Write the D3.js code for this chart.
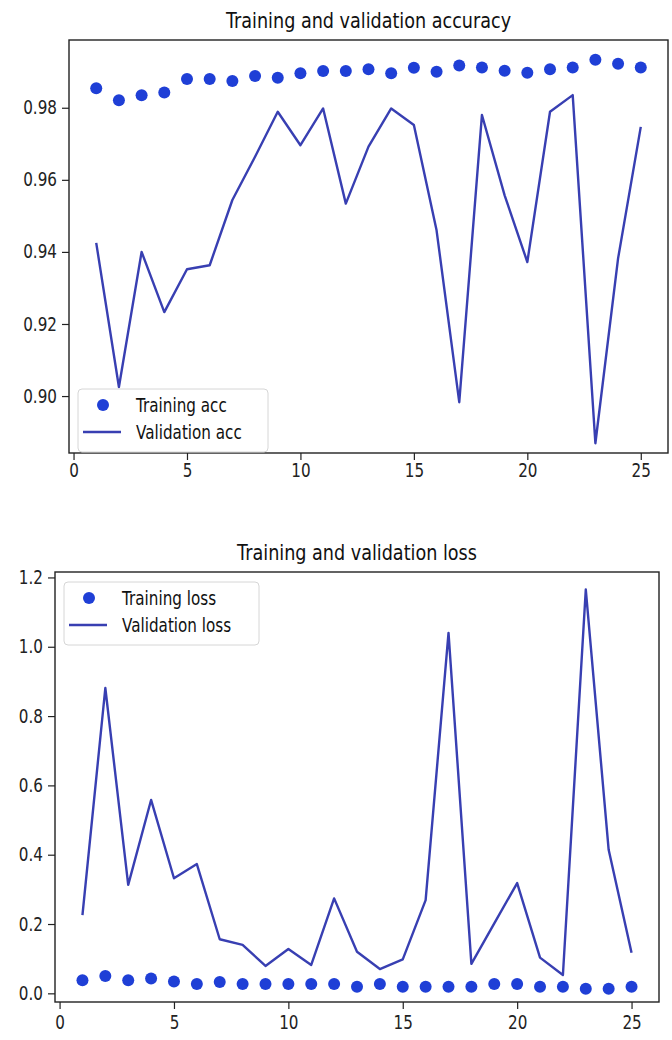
<!DOCTYPE html>
<html>
<head>
<meta charset="utf-8">
<script src="https://cdn.jsdelivr.net/npm/d3@7"></script>
<style>
  body { margin: 0; background: #fff; }
  svg { display: block; font-family: 'DejaVu Sans', sans-serif; }
</style>
</head>
<body>
<svg width="672" height="1040"></svg>
<script>
const epochs = [1, 2, 3, 4, 5, 6, 7, 8, 9, 10, 11, 12, 13, 14, 15, 16, 17, 18, 19, 20, 21, 22, 23, 24, 25];

const trainAcc = [0.9854, 0.9821, 0.9835, 0.9842, 0.9880, 0.9880, 0.9874, 0.9888, 0.9883, 0.9896, 0.9902, 0.9902, 0.9907,
  0.9896, 0.9911, 0.9900, 0.9917, 0.9912, 0.9903, 0.9897, 0.9907, 0.9912, 0.9933, 0.9922, 0.9912];
const valAcc = [0.9425, 0.9025, 0.9400, 0.9233, 0.9352, 0.9363, 0.9544, 0.9664, 0.9789, 0.9696, 0.9798, 0.9534, 0.9692,
  0.9798, 0.9752, 0.9460, 0.8983, 0.9780, 0.9557, 0.9372, 0.9789, 0.9835, 0.8869, 0.9382, 0.9747];

const trainLoss = [0.038, 0.050, 0.038, 0.043, 0.034, 0.027, 0.033, 0.027, 0.027, 0.027, 0.027, 0.027, 0.019,
  0.027, 0.019, 0.019, 0.019, 0.019, 0.027, 0.027, 0.019, 0.019, 0.013, 0.013, 0.019];
const valLoss = [0.226, 0.881, 0.313, 0.558, 0.332, 0.373, 0.156, 0.140, 0.079, 0.128, 0.082, 0.274, 0.120,
  0.070, 0.098, 0.269, 1.040, 0.085, 0.202, 0.318, 0.103, 0.053, 1.165, 0.414, 0.117];

const epochTicks = [0, 5, 10, 15, 20, 25];
const accTicks = [0.90, 0.92, 0.94, 0.96, 0.98];
const lossTicks = [0.0, 0.2, 0.4, 0.6, 0.8, 1.0, 1.2];

const dotColor = '#1f3fd6';
const lineColor = '#383fb2';
const narrow = 0.8; // the reference text is squeezed sideways

const svg = d3.select('svg');

const squeeze = (sel) => {
  sel.each(function () {
    const t = d3.select(this);
    t.attr('x', (+t.attr('x') || 0) / narrow).attr('transform', `scale(${narrow},1)`);
  });
};

const drawPanel = (p) => {
  const g = svg.append('g');

  const x = d3.scaleLinear().domain([-0.2, 26.2]).range([p.left, p.right]);
  const y = d3.scaleLinear().domain(p.yDomain).range([p.bottom, p.top]);

  g.append('path')
    .datum(epochs)
    .attr('fill', 'none')
    .attr('stroke', lineColor)
    .attr('stroke-width', 2.4)
    .attr('stroke-linejoin', 'round')
    .attr('d', d3.line().x((d) => x(d)).y((d, i) => y(p.lineValues[i])));

  g.selectAll('circle.pt')
    .data(epochs)
    .enter()
    .append('circle')
    .attr('class', 'pt')
    .attr('cx', (d) => x(d))
    .attr('cy', (d, i) => y(p.dotValues[i]))
    .attr('r', 6)
    .attr('fill', dotColor);

  const xAxis = g.append('g')
    .attr('transform', `translate(0,${p.bottom})`)
    .call(d3.axisBottom(x).tickValues(epochTicks).tickSize(7).tickPadding(p.xPad));

  const yAxis = g.append('g')
    .attr('transform', `translate(${p.left},0)`)
    .call(d3.axisLeft(y).tickValues(p.yTicks).tickFormat(p.yFormat).tickSize(7).tickPadding(5));

  [xAxis, yAxis].forEach((a) => {
    a.select('.domain').remove();
    a.selectAll('line').attr('stroke', '#222').attr('stroke-width', 1.2);
    a.selectAll('text')
      .attr('font-size', 19)
      .attr('fill', '#222')
      .attr('font-family', 'DejaVu Sans')
      .call(squeeze);
  });

  g.append('rect')
    .attr('x', p.left)
    .attr('y', p.top)
    .attr('width', p.right - p.left)
    .attr('height', p.bottom - p.top)
    .attr('fill', 'none')
    .attr('stroke', '#222')
    .attr('stroke-width', 1.4);

  g.append('text')
    .attr('x', (p.left + p.right) / 2)
    .attr('y', p.top - 12)
    .attr('text-anchor', 'middle')
    .attr('font-size', 22)
    .attr('fill', '#111')
    .text(p.title)
    .call(squeeze);

  // legend
  const lg = g.append('g').attr('transform', `translate(${p.legend.x},${p.legend.y})`);
  lg.append('rect')
    .attr('width', p.legend.w)
    .attr('height', 63)
    .attr('rx', 4)
    .attr('fill', '#fff')
    .attr('fill-opacity', 0.8)
    .attr('stroke', '#d6d6d6');
  lg.append('circle').attr('cx', 25).attr('cy', 16).attr('r', 6).attr('fill', dotColor);
  lg.append('line')
    .attr('x1', 5).attr('x2', 43)
    .attr('y1', 43).attr('y2', 43)
    .attr('stroke', lineColor)
    .attr('stroke-width', 2.4);
  lg.selectAll('text.lab')
    .data(p.legend.labels)
    .enter()
    .append('text')
    .attr('class', 'lab')
    .attr('x', 58)
    .attr('y', (d, i) => 16 + i * 27)
    .attr('dy', '0.35em')
    .attr('font-size', 19)
    .attr('fill', '#111')
    .text((d) => d)
    .call(squeeze);
};

drawPanel({
  left: 69, right: 668, top: 40, bottom: 453,
  yDomain: [0.8842, 0.9988],
  yTicks: accTicks,
  yFormat: d3.format('.2f'),
  xPad: 4,
  dotValues: trainAcc,
  lineValues: valAcc,
  title: 'Training and validation accuracy',
  legend: { x: 78, y: 389, w: 190, labels: ['Training acc', 'Validation acc'] }
});

drawPanel({
  left: 55, right: 659, top: 572, bottom: 1002,
  yDomain: [-0.025, 1.2157],
  yTicks: lossTicks,
  yFormat: d3.format('.1f'),
  xPad: 7,
  dotValues: trainLoss,
  lineValues: valLoss,
  title: 'Training and validation loss',
  legend: { x: 64, y: 582, w: 195, labels: ['Training loss', 'Validation loss'] }
});
</script>
</body>
</html>
